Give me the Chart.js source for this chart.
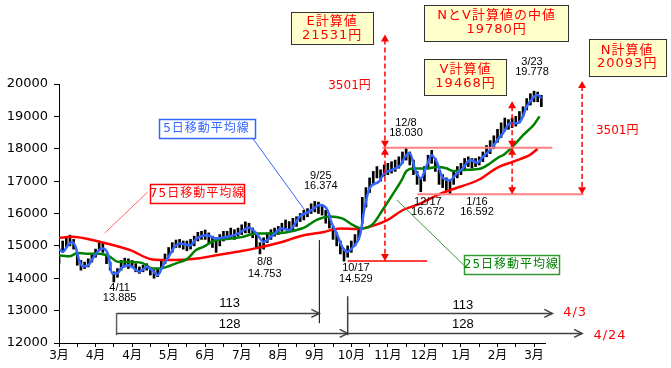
<!DOCTYPE html>
<html lang="ja">
<head>
<meta charset="utf-8">
<title>日経平均 計算値</title>
<script src="https://cdn.jsdelivr.net/npm/chart.js@4.4.1/dist/chart.umd.min.js"></script>
<style>
  body { margin: 0; background: #fff; }
  #graficoprecio { display: block; }
</style>
</head>
<body>
<canvas id="graficoprecio" width="671" height="368"></canvas>
<script>
// x軸の目盛り（20日ごとに月ラベル）
const monthLabels = ['3月', '4月', '4月', '5月', '6月', '7月', '8月', '9月', '10月', '11月', '12月', '1月', '2月', '3月'];
const yMin = 12000;
const yMax = 20000;
const yStep = 1000;

// 日足（安値・高値）2日おき
const barStep = 2;
const priceLow = [
  14450, 14800, 14950, 15000, 14900, 14400, 14250, 14300, 14350, 14500,
  14650, 14850, 14800, 14450, 14250, 13885, 14030, 14250, 14350, 14300,
  14350, 14200, 14150, 14200, 14250, 14100, 14000, 14050, 14300, 14450,
  14650, 14800, 14950, 14950, 14900, 14850, 14900, 15000, 15150, 15200,
  15200, 15100, 14950, 14800, 15000, 15150, 15200, 15250, 15200, 15300,
  15350, 15400, 15400, 15250, 14950, 14753, 14900, 15100, 15200, 15300,
  15350, 15450, 15500, 15450, 15500, 15600, 15750, 15800, 15900, 16000,
  16050, 16000, 15950, 15700, 15550, 15200, 15000, 14750, 14529, 14650,
  14800, 15000, 15200, 15700, 16200, 16650, 16900, 17100, 17000, 17150,
  17200, 17250, 17300, 17400, 17550, 17650, 17500, 17200, 16900, 16672,
  17000, 17400, 17550, 17300, 16900, 16800, 16700, 16592, 16900, 17100,
  17200, 17350, 17450, 17400, 17450, 17500, 17600, 17750, 17850, 18000,
  18200, 18350, 18550, 18600, 18650, 18700, 18800, 19000, 19200, 19350,
  19450, 19450, 19300
];
const priceHigh = [
  14700, 15150, 15250, 15330, 15200, 14800, 14550, 14500, 14600, 14750,
  14900, 15150, 15080, 14750, 14500, 14200, 14300, 14550, 14620, 14600,
  14550, 14450, 14350, 14400, 14450, 14300, 14250, 14300, 14550, 14750,
  14950, 15100, 15180, 15200, 15150, 15150, 15200, 15300, 15420, 15450,
  15490, 15400, 15300, 15250, 15350, 15450, 15450, 15550, 15500, 15550,
  15650, 15740, 15700, 15550, 15350, 15100, 15250, 15400, 15500, 15550,
  15600, 15700, 15800, 15750, 15850, 15900, 16000, 16100, 16150, 16300,
  16374, 16350, 16250, 16100, 15950, 15600, 15400, 15150, 14900, 15000,
  15150, 15350, 15550, 16500, 16800, 17100, 17300, 17450, 17350, 17500,
  17550, 17600, 17650, 17750, 17900, 18030, 17900, 17650, 17300, 17100,
  17450, 17800, 17950, 17700, 17350, 17200, 17100, 17000, 17300, 17450,
  17550, 17700, 17750, 17700, 17700, 17750, 17900, 18100, 18250, 18400,
  18600, 18800, 18950, 18900, 18950, 19000, 19150, 19300, 19550, 19700,
  19778, 19750, 19650
];

// 5日移動平均線
const ma5Days = [0, 2, 5, 7, 9, 11, 13, 16, 19, 22, 24, 27, 29, 32, 34, 38, 40, 44, 48, 51,
  54, 57, 60, 63, 66, 72, 75, 81, 86, 92, 98, 104, 108, 112, 116, 122, 126, 132, 137, 143,
  147, 149, 152, 155, 158, 161, 165, 167, 170, 175, 178, 182, 187, 190, 192, 195, 198, 201, 204, 207,
  210, 214, 218, 221, 225, 229, 232, 236, 240, 243, 247, 251, 253, 256, 260, 262, 264];
const ma5 = [14900, 14815, 15020, 15120, 14980, 14560, 14360, 14400, 14660, 14870, 14920, 14710, 14150, 14150, 14310, 14400, 14350, 14200, 14350, 14250,
  14100, 14400, 14660, 14950, 15070, 15020, 15210, 15330, 15230, 15280, 15380, 15560, 15390, 15120, 15280, 15540, 15490, 15920, 16060, 16260,
  16100, 15740, 15380, 14970, 14820, 14970, 15380, 16100, 16780, 16980, 17240, 17340, 17500, 17800, 17860, 17340, 17080, 17440, 17800, 17560,
  17110, 17030, 17260, 17390, 17650, 17570, 17750, 17960, 18270, 18480, 18790, 18790, 18890, 19300, 19610, 19660, 19560];

// 25日移動平均線
const ma25Days = [0, 6, 10, 15, 22, 28, 32, 40, 46, 51, 55, 60, 64, 70, 75, 79, 85, 93, 100, 108,
  116, 124, 132, 135, 141, 148, 155, 161, 166, 172, 177, 183, 188, 190, 194, 201, 207, 212, 216, 221,
  227, 231, 236, 241, 243, 249, 254, 260, 263];
const ma25 = [14710, 14680, 14780, 14760, 14760, 14660, 14510, 14500, 14460, 14300, 14300, 14370, 14460, 14590, 14870, 14970, 15160, 15220, 15270, 15380,
  15380, 15410, 15520, 15590, 15800, 15910, 15850, 15640, 15540, 15690, 16100, 16620, 17080, 17300, 17390, 17390, 17440, 17400, 17310, 17340,
  17360, 17390, 17550, 17750, 17800, 18110, 18420, 18750, 19000];

// 75日移動平均線
const ma75Days = [0, 7, 22, 39, 51, 61, 77, 86, 100, 108, 122, 132, 145, 154, 163, 170, 180, 188, 198, 207,
  214, 230, 240, 249, 258, 262];
const ma75 = [15250, 15280, 15130, 14870, 14580, 14560, 14620, 14710, 14840, 14930, 15120, 15300, 15430, 15540, 15520, 15590, 15800, 16100, 16310, 16570,
  16720, 17050, 17420, 17610, 17820, 18000];

const fontJP = "'DejaVu Sans', 'Noto Sans CJK JP', sans-serif";
const fontNum = "'Liberation Sans', Arial, sans-serif";

const toPoints = (days, vals) => days.map((d, i) => ({ x: d, y: vals[i] }));
const priceBars = priceLow.map((lo, i) => ({ x: i * barStep, y: [lo, priceHigh[i]] }));

// 描画ヘルパー
function seg(ctx, x0, y0, x1, y1, color, width, dash) {
  ctx.save();
  ctx.strokeStyle = color;
  ctx.lineWidth = width;
  ctx.setLineDash(dash || []);
  ctx.beginPath();
  ctx.moveTo(x0, y0);
  ctx.lineTo(x1, y1);
  ctx.stroke();
  ctx.restore();
}
function head(ctx, x, y, dir) { // dir -1 = up, 1 = down
  ctx.fillStyle = '#ff0000';
  ctx.beginPath();
  ctx.moveTo(x, y);
  ctx.lineTo(x - 4, y - dir * 7);
  ctx.lineTo(x + 4, y - dir * 7);
  ctx.closePath();
  ctx.fill();
}
function dashArrow(ctx, x, yTop, yBot) {
  seg(ctx, x, yTop + 5, x, yBot - 5, '#ff0000', 1.5, [5, 3]);
  head(ctx, x, yTop, -1);
  head(ctx, x, yBot, 1);
}
function openArrow(ctx, x0, x1, y) {
  seg(ctx, x0, y, x1, y, '#404040', 1.5);
  ctx.save();
  ctx.strokeStyle = '#404040';
  ctx.lineWidth = 1.5;
  ctx.beginPath();
  ctx.moveTo(x1 - 8, y - 4);
  ctx.lineTo(x1, y);
  ctx.lineTo(x1 - 8, y + 4);
  ctx.stroke();
  ctx.restore();
}
function rect(ctx, x0, y0, x1, y1, fill, stroke, lw) {
  ctx.save();
  ctx.fillStyle = fill;
  ctx.fillRect(x0, y0, x1 - x0, y1 - y0);
  ctx.strokeStyle = stroke;
  ctx.lineWidth = lw;
  ctx.strokeRect(Math.round(x0) + 0.5, Math.round(y0) + 0.5, Math.round(x1 - x0), Math.round(y1 - y0));
  ctx.restore();
}
function txt(ctx, s, x, y, font, color, spacing) {
  ctx.save();
  ctx.font = font;
  ctx.fillStyle = color;
  ctx.textAlign = 'center';
  ctx.textBaseline = 'middle';
  if (spacing) ctx.letterSpacing = spacing;
  ctx.fillText(s, x, y);
  ctx.restore();
}

const notePlugin = {
  id: 'notes',
  afterDatasetsDraw(chart) {
    const ctx = chart.ctx;
    const X = t => chart.scales.x.getPixelForValue(t);
    const Y = v => chart.scales.y.getPixelForValue(v);

    // 水平ライン
    seg(ctx, X(177), Y(18030), X(270), Y(18030), '#ff8080', 2);
    seg(ctx, X(196), Y(16592), X(287), Y(16592), '#ff8080', 2);
    seg(ctx, X(158), Y(14529), X(201.5), Y(14529), '#ff0000', 1.5);

    // 計算値の矢印
    dashArrow(ctx, X(178.4), Y(21531), Y(18030));
    dashArrow(ctx, X(178.4), Y(18030), Y(14529));
    dashArrow(ctx, X(248), Y(19468), Y(18030));
    dashArrow(ctx, X(248), Y(18030), Y(16592));
    dashArrow(ctx, X(286.3), Y(20093), Y(16592));
    txt(ctx, '3501円', X(159), Y(19938), '12px ' + fontJP, '#ff0000');
    txt(ctx, '3501円', X(305.5), Y(18547), '12px ' + fontJP, '#ff0000');

    // 計算値ボックス
    const yellow = '#ffffcc';
    rect(ctx, X(127), Y(22230), X(172), Y(21240), yellow, '#333', 1);
    txt(ctx, 'E計算値', X(149.5), Y(21920), '13px ' + fontJP, '#ff0000', '1px');
    txt(ctx, '21531円', X(149.5), Y(21500), '13px ' + fontJP, '#ff0000', '1px');
    rect(ctx, X(200), Y(22440), X(279), Y(21330), yellow, '#333', 1);
    txt(ctx, 'NとV計算値の中値', X(239.5), Y(22100), '13px ' + fontJP, '#ff0000', '1px');
    txt(ctx, '19780円', X(239.5), Y(21670), '13px ' + fontJP, '#ff0000', '1px');
    rect(ctx, X(200), Y(20770), X(245), Y(19660), yellow, '#333', 1);
    txt(ctx, 'V計算値', X(222.5), Y(20430), '13px ' + fontJP, '#ff0000', '1px');
    txt(ctx, '19468円', X(222.5), Y(20000), '13px ' + fontJP, '#ff0000', '1px');
    rect(ctx, X(290), Y(21390), X(332), Y(20250), yellow, '#333', 1);
    txt(ctx, 'N計算値', X(311), Y(21020), '13px ' + fontJP, '#ff0000', '1px');
    txt(ctx, '20093円', X(311), Y(20620), '13px ' + fontJP, '#ff0000', '1px');

    // 移動平均線の凡例ボックスと引出線
    seg(ctx, X(105.5), Y(18361), X(134.5), Y(16104), '#3366ff', 1);
    rect(ctx, X(54.5), Y(18920), X(107), Y(18330), '#fff', '#3366ff', 1.5);
    txt(ctx, '5日移動平均線', X(80.7), Y(18625), '12px ' + fontJP, '#3366ff', '1px');
    seg(ctx, X(48.5), Y(16661), X(25), Y(15393), '#ff6666', 1);
    rect(ctx, X(50), Y(16910), X(101.6), Y(16320), '#fff', '#ff0000', 1.5);
    txt(ctx, '75日移動平均線', X(75.8), Y(16615), '12px ' + fontJP, '#ff0000', '1px');
    seg(ctx, X(185), Y(16413), X(221.6), Y(14404), '#339933', 1);
    rect(ctx, X(221.6), Y(14710), X(273.7), Y(14125), '#fff', '#339933', 1.5);
    txt(ctx, '25日移動平均線', X(247.6), Y(14420), '12px ' + fontJP, '#008000', '1px');

    // 高値・安値の注記
    const notes = [
      ['4/11', '13.885', 33.2, 13692, 13383],
      ['8/8', '14.753', 112.6, 14496, 14125],
      ['9/25', '16.374', 143.3, 17155, 16846],
      ['10/17', '14.529', 162.5, 14311, 13971],
      ['12/8', '18.030', 189.9, 18794, 18485],
      ['12/17', '16.672', 201.9, 16351, 16042],
      ['1/16', '16.592', 228.8, 16351, 16042],
      ['3/23', '19.778', 258.9, 20680, 20371]
    ];
    notes.forEach(n => {
      txt(ctx, n[0], X(n[2]), Y(n[3]), '11px ' + fontNum, '#000');
      txt(ctx, n[1], X(n[2]), Y(n[4]), '11px ' + fontNum, '#000');
    });

    // 日数の矢印
    seg(ctx, X(142.5), Y(15180), X(142.5), Y(12610), '#000', 1);
    seg(ctx, X(158), Y(13445), X(158), Y(12240), '#404040', 1.5);
    seg(ctx, X(31.5), Y(12919), X(31.5), Y(12240), '#606060', 1.5);
    openArrow(ctx, X(31.5), X(142.5), Y(12915));
    openArrow(ctx, X(158), X(270), Y(12915));
    openArrow(ctx, X(31.5), X(158), Y(12295));
    openArrow(ctx, X(158), X(286.3), Y(12295));
    txt(ctx, '113', X(93.4), Y(13228), '13px ' + fontNum, '#000');
    txt(ctx, '128', X(93.4), Y(12580), '13px ' + fontNum, '#000');
    txt(ctx, '113', X(221), Y(13167), '13px ' + fontNum, '#000');
    txt(ctx, '128', X(221), Y(12580), '13px ' + fontNum, '#000');
    txt(ctx, '4/3', X(282.5), Y(12950), '13px ' + fontJP, '#ff0000', '1px');
    txt(ctx, '4/24', X(301.6), Y(12240), '13px ' + fontJP, '#ff0000', '1px');
  }
};

const xTickDays = [];
monthLabels.forEach((m, i) => {
  xTickDays.push(i * 20);
  if (i < monthLabels.length - 1) xTickDays.push(i * 20 + 10);
});
const yTickVals = [];
for (let v = yMin; v <= yMax; v += yStep) yTickVals.push(v);

const ctx = document.getElementById('graficoprecio').getContext('2d');
new Chart(ctx, {
  type: 'bar',
  data: {
    datasets: [
      {
        type: 'line',
        label: '5日移動平均線',
        data: toPoints(ma5Days, ma5),
        borderColor: '#3366ff',
        borderWidth: 2.5,
        pointRadius: 0,
        cubicInterpolationMode: 'monotone',
        order: 1
      },
      {
        type: 'line',
        label: '25日移動平均線',
        data: toPoints(ma25Days, ma25),
        borderColor: '#008000',
        borderWidth: 2.5,
        pointRadius: 0,
        cubicInterpolationMode: 'monotone',
        order: 2
      },
      {
        type: 'line',
        label: '75日移動平均線',
        data: toPoints(ma75Days, ma75),
        borderColor: '#ff0000',
        borderWidth: 2.5,
        pointRadius: 0,
        cubicInterpolationMode: 'monotone',
        order: 3
      },
      {
        type: 'bar',
        label: '日足',
        data: priceBars,
        backgroundColor: '#000',
        barThickness: 2,
        order: 4
      }
    ]
  },
  options: {
    responsive: false,
    animation: false,
    layout: { padding: { left: 0, right: 126, top: 84, bottom: 0 } },
    plugins: { legend: { display: false }, tooltip: { enabled: false } },
    scales: {
      x: {
        type: 'linear',
        min: 0,
        max: 266,
        offset: false,
        afterBuildTicks: s => { s.ticks = xTickDays.map(v => ({ value: v })); },
        afterFit: s => { s.height = 25; },
        grid: { drawOnChartArea: false, offset: false, tickLength: 4, color: '#000' },
        border: { color: '#000', width: 1 },
        ticks: {
          autoSkip: false,
          maxRotation: 0,
          padding: 2,
          color: '#000',
          font: { family: fontJP, size: 12 },
          callback: v => (v % 20 === 0 ? monthLabels[v / 20] : '')
        }
      },
      y: {
        min: yMin,
        max: yMax,
        afterBuildTicks: s => { s.ticks = yTickVals.map(v => ({ value: v })); },
        afterFit: s => { s.width = 59; },
        grid: { drawOnChartArea: false, tickLength: 5, color: '#000' },
        border: { color: '#000', width: 1 },
        ticks: {
          padding: 6,
          color: '#000',
          font: { family: fontJP, size: 13 },
          callback: v => String(v)
        }
      }
    }
  },
  plugins: [notePlugin]
});
</script>
</body>
</html>
